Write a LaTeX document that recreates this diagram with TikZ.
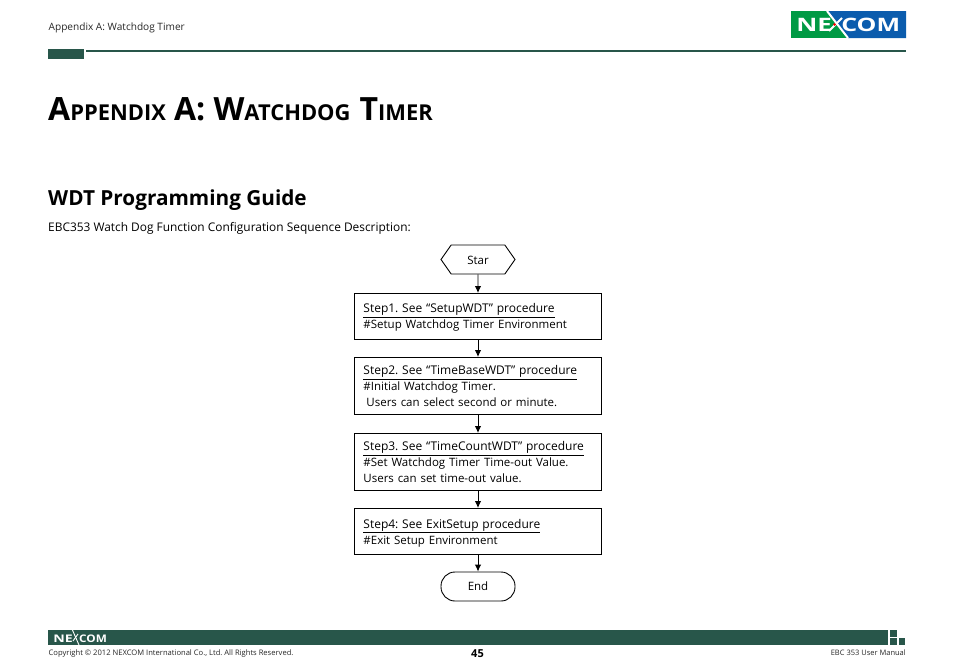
\documentclass[tikz,border=0pt]{standalone}
\usepackage{fontspec}
\setmainfont{Open Sans}
\usetikzlibrary{shapes.symbols,calc,arrows.meta}
\frenchspacing
\definecolor{nexdark}{HTML}{28564A}
\definecolor{nexgreen}{HTML}{009A44}
\definecolor{nexblue}{HTML}{0B5CAD}
\newcommand{\titlecaps}[2]{{\fontsize{32}{32}\selectfont #1}{\fontsize{21.9}{32}\selectfont #2}}
\newcommand{\steptitle}[1]{{\fontsize{12}{16}\selectfont\underline{#1}}}
\tikzset{
	stepnode/.style={draw, line width=.9pt, anchor=north west, minimum width=247pt, text width=229pt, inner xsep=9pt, inner ysep=0pt, align=left, font=\fontsize{11.5}{16}\selectfont},
	endnode/.style={draw, line width=.9pt, minimum width=74pt, minimum height=29pt, inner sep=0pt, font=\fontsize{11.5}{16}\selectfont},
	flow/.style={-{Latex[length=7pt,width=6.5pt]}, line width=.9pt},
	pagetext/.style={anchor=base west, inner sep=0pt},
}
\begin{document}
\begin{tikzpicture}[x=1pt, y=-1pt]
	\useasboundingbox (0,0) rectangle (954,672);
	% header
	\node[pagetext, font=\fontsize{10.1}{11}\selectfont, text=black!85] (chapter) at (48.5,30) {Appendix A: Watchdog Timer};
	\fill[nexdark] (48,49) rectangle (84,59);
	\fill[nexdark] (86,50) rectangle (906,52);
	% logo
	\fill[nexgreen] (791,11) rectangle (906,38);
	\fill[nexblue] (827,11) -- (906,11) -- (906,38) -- (848,38) -- cycle;
	\node[pagetext, xscale=1.4, text=white, font=\fontsize{18.5}{20}\selectfont\bfseries] (logone) at (796,31) {NE};
	\node[pagetext, xscale=1.35, text=white, font=\fontsize{18.5}{20}\selectfont\bfseries] (logocom) at (841,31) {COM};
	\draw[white, line width=2pt] (827,11) -- (848,38);
	\draw[white, line width=2pt] (842,18) -- (829,31);
	\fill[red] (834.5,24.5) circle (1.5);
	% titles
	\node[pagetext, font=\bfseries] (title) at (48,120) {\titlecaps{A}{PPENDIX}\hspace{5.5pt} \titlecaps{A: W}{ATCHDOG}\hspace{6.5pt} \titlecaps{T}{IMER}};
	\node[pagetext, font=\fontsize{20.75}{24}\selectfont\bfseries] (guide) at (48,205) {WDT Programming Guide};
	\node[pagetext, font=\fontsize{11.9}{16}\selectfont] (intro) at (48,231) {EBC353 Watch Dog Function Configuration Sequence Description:};
	% flow chart
	\node[endnode, shape=signal, signal to=west and east, signal pointer angle=110] (star) at (478,259.5) {\rule{0pt}{11pt}Star};
	\node[stepnode, minimum height=46pt] (step1) at (354,293) {\rule{0pt}{11pt}\steptitle{Step1. See “SetupWDT” procedure}\\\#Setup Watchdog Timer Environment};
	\node[stepnode, minimum height=57pt] (step2) at (354,357) {\steptitle{Step2. See “TimeBaseWDT” procedure}\\\#Initial Watchdog Timer.\\\hspace*{3pt}Users can select second or minute.};
	\node[stepnode, minimum height=57pt] (step3) at (354,433) {\steptitle{Step3. See “TimeCountWDT” procedure}\\\#Set Watchdog Timer Time-out Value.\\Users can set time-out value.};
	\node[stepnode, minimum height=46pt] (step4) at (354,508) {\rule{0pt}{12pt}\steptitle{Step4: See ExitSetup procedure}\\\#Exit Setup Environment};
	\node[endnode, rounded corners=14pt] (end) at (478,586.5) {End};
	\draw[flow] (star) -- (step1.north -| star);
	\draw[flow] (step1.south -| star) -- (step2.north -| star);
	\draw[flow] (step2.south -| star) -- (step3.north -| star);
	\draw[flow] (step3.south -| star) -- (step4.north -| star);
	\draw[flow] (step4.south -| star) -- (end);
	% footer
	\fill[nexdark] (48,630) rectangle (888,645);
	\fill[nexdark] (890,630) rectangle (897,637);
	\fill[nexdark] (890,638) rectangle (897,645);
	\fill[nexdark] (899,638) rectangle (905,645);
	\node[pagetext, xscale=1.35, text=white, font=\fontsize{10.5}{11}\selectfont\bfseries] (footne) at (53,642) {NE};
	\node[pagetext, xscale=1.12, text=white, font=\fontsize{10.5}{11}\selectfont\bfseries] (footcom) at (79,642) {COM};
	\draw[white, line width=.9pt] (72,629) -- (79,645);
	\draw[white, line width=.9pt] (78,634) -- (73,641);
	\node[pagetext, font=\fontsize{7.6}{8}\selectfont, text=black!85] (copyright) at (48.5,655) {Copyright © 2012 NEXCOM International Co., Ltd. All Rights Reserved.};
	\node[anchor=base, inner sep=0pt, font=\fontsize{11}{12}\selectfont\bfseries] (pagenum) at (477.5,657) {45};
	\node[anchor=base east, inner sep=0pt, font=\fontsize{7.5}{8}\selectfont, text=black!85] (manual) at (906,655) {EBC 353 User Manual};
\end{tikzpicture}
\end{document}
